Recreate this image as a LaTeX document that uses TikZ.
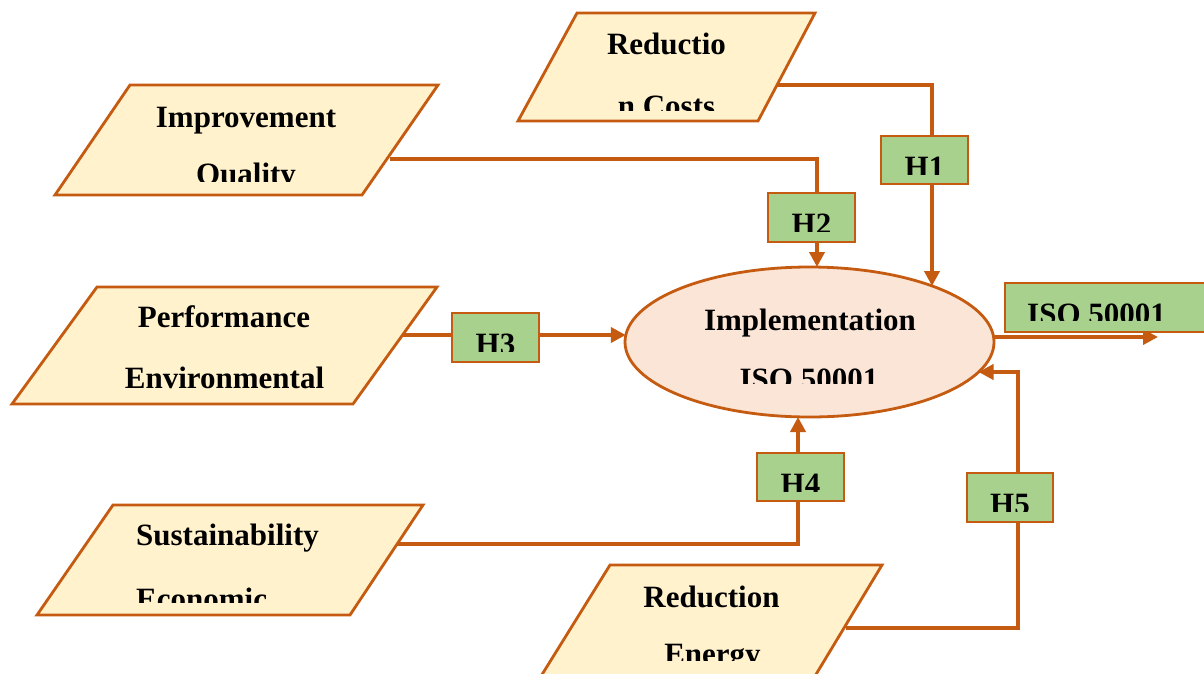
\documentclass[tikz,border=0pt]{standalone}
\usepackage{fontspec}
\setmainfont{Liberation Serif}
\usetikzlibrary{arrows.meta,shapes.geometric,calc}
\definecolor{edge}{RGB}{197,90,17}
\definecolor{parfill}{RGB}{255,242,204}
\definecolor{ellfill}{RGB}{251,229,214}
\definecolor{hfill}{RGB}{169,209,142}
\tikzset{
  conn/.style={draw=edge, line width=4pt, -{Triangle[length=15pt,width=15pt]}},
  para/.style={draw=edge, fill=parfill, line width=2.8pt, line join=miter},
  hbox/.style={draw=edge, fill=hfill, line width=1.8pt, rectangle, inner sep=0pt},
  txt/.style={font=\fontsize{31}{36}\selectfont\bfseries, inner sep=0pt, anchor=base},
}
\begin{document}
\begin{tikzpicture}[x=1pt,y=-1pt]
\useasboundingbox (0,0) rectangle (1204,673);
\fill[white] (0,0) rectangle (1204,673);
% central ellipse
\node[ellipse, draw=edge, fill=ellfill, line width=2.8pt, minimum width=369pt, minimum height=150pt, inner sep=0pt, outer sep=0pt] (impl) at (809.5,342) {};
% connector start points
\coordinate (s1) at (777,85);
\coordinate (s2) at (390,159);
\coordinate (s3) at (400,335);
\coordinate (s4) at (397,544);
\coordinate (s5) at (846,628);
\coordinate (k5) at (1018,372);
\coordinate (out) at (1158,337);
% connectors
\draw[conn] (s1) -| ($(impl.center)+(122.5,-56)$);
\draw[conn] (s2) -| ($(impl.center)+(7.5,-75)$);
\draw[conn] (s3) -- ($(impl.center)+(-183.7,-7)$);
\draw[conn] (s4) -| ($(impl.center)+(-11.5,75)$);
\draw[conn] (s5) -| (k5) -- ($(impl.center)+(169,30)$);
\draw[conn] ($(impl.center)+(184,-5)$) -- (out);
% parallelograms
\draw[para] (577,13) -- (815,13) -- (758,121) -- (518,121) -- cycle;
\draw[para] (130,85) -- (438,85) -- (362,195) -- (55,195) -- cycle;
\draw[para] (97,287) -- (437,287) -- (353,404) -- (12,404) -- cycle;
\draw[para] (113,505) -- (423,505) -- (350,615) -- (37,615) -- cycle;
\draw[para] (610,565) -- (882,565) -- (812,681) -- (538,681) -- cycle;
% hypothesis boxes
\node[hbox, minimum width=87pt, minimum height=48pt] (h1) at (924.5,160) {};
\node[hbox, minimum width=87pt, minimum height=49pt] (h2) at (811.5,217.5) {};
\node[hbox, minimum width=87pt, minimum height=49pt] (h3) at (495.5,337.5) {};
\node[hbox, minimum width=87pt, minimum height=48pt] (h4) at (800.5,477) {};
\node[hbox, minimum width=86pt, minimum height=49pt] (h5) at (1010,497.5) {};
\node[hbox, minimum width=225pt, minimum height=49pt] (iso) at (1117.5,307.5) {};
% texts (first lines)
\node[txt] (t1) at (666.5,54) {Reductio};
\node[txt] (t2) at (246,127) {Improvement};
\node[txt] (t3) at (224,327) {Performance};
\node[txt] (t3b) at (224.5,388) {Environmental};
\node[txt, anchor=base west] (t4) at (136,545) {Sustainability};
\node[txt] (t5) at (711.5,607) {Reduction};
\node[txt] (t6) at (810,330) {Implementation};
% clipped second lines
\begin{scope}\clip (500,60) rectangle (830,110);
\node[txt] (t1b) at (666.5,116.5) {n Costs};\end{scope}
\begin{scope}\clip (100,135) rectangle (400,181);
\node[txt] (t2b) at (246,184.5) {Quality};\end{scope}
\begin{scope}\clip (100,555) rectangle (400,602);
\node[txt, anchor=base west] (t4b) at (136,609.5) {Economic};\end{scope}
\begin{scope}\clip (600,615) rectangle (850,660);
\node[txt] (t5b) at (712.5,664.5) {Energy};\end{scope}
\begin{scope}\clip (650,340) rectangle (970,383);
\node[txt] (t6b) at (809,389.5) {ISO 50001};\end{scope}
\begin{scope}\clip (1010,290) rectangle (1204,320);
\node[txt, anchor=base west] (isot) at (1027,324.5) {ISO 50001};\end{scope}
\begin{scope}\clip (881,136) rectangle (968,174);
\node[txt] at (924.5,177.5) {H1};\end{scope}
\begin{scope}\clip (768,193) rectangle (855,231);
\node[txt] at (811.5,234.5) {H2};\end{scope}
\begin{scope}\clip (452,313) rectangle (539,351);
\node[txt] at (495.5,354.5) {H3};\end{scope}
\begin{scope}\clip (757,453) rectangle (844,491);
\node[txt] at (800.5,494.5) {H4};\end{scope}
\begin{scope}\clip (967,473) rectangle (1053,511);
\node[txt] at (1010,514.5) {H5};\end{scope}
\end{tikzpicture}
\end{document}
